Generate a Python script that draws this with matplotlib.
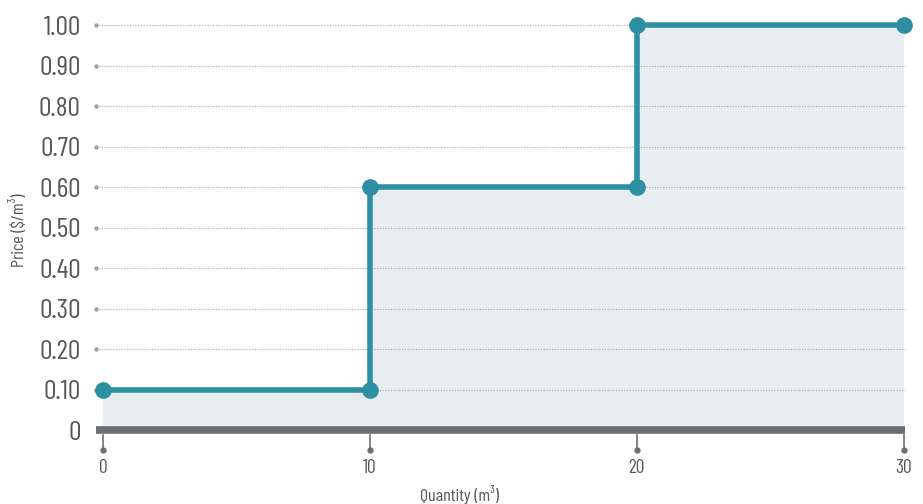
import matplotlib
matplotlib.use("Agg")
import matplotlib.pyplot as plt
import matplotlib.transforms as mtransforms

# data
qty_corners = [0, 10, 10, 20, 20, 30]
price_corners = [0.10, 0.10, 0.60, 0.60, 1.00, 1.00]
y_ticks = [0, 0.10, 0.20, 0.30, 0.40, 0.50, 0.60, 0.70, 0.80, 0.90, 1.00]
y_labels = ["0", "0.10", "0.20", "0.30", "0.40", "0.50", "0.60", "0.70", "0.80", "0.90", "1.00"]
x_ticks = [0, 10, 20, 30]
x_labels = ["0", "10", "20", "30"]

plt.rcParams["font.family"] = ["Barlow Condensed", "DejaVu Sans"]

teal = "#2e8fa3"
grey = "#6d6e71"
txt = "#585858"

fig = plt.figure(figsize=(9.23, 5.04), dpi=100)
ax = fig.add_axes([96/923, 1 - 435/504, (905 - 96)/923, (435 - 17)/504])
ax.set_xlim(-0.26, 30.04)
ax.set_ylim(-0.012, 1.02)
for s in ax.spines.values():
    s.set_visible(False)

# grid lines
for yv in y_ticks[1:]:
    ax.plot([-0.26, 30.04], [yv, yv], ls=(0, (1, 1.5)), lw=0.8, color="#a8a8a8", zorder=1, clip_on=False)
    ax.plot([-0.25], [yv], "o", ms=2.2, color="#a0a0a0", zorder=1, clip_on=False)

# fill under steps
ax.fill_between(qty_corners, price_corners, 0, color="#e8edf1", zorder=0, lw=0)

# axis bar
ax.plot([-0.26, 30.04], [0, 0], color=grey, lw=5.5, solid_capstyle="butt", zorder=3, clip_on=False)

# x ticks with dots
trans = mtransforms.blended_transform_factory(ax.transData, ax.transAxes)
for xv, lab in zip(x_ticks, x_labels):
    ax.plot([xv, xv], [0.0, -0.035], color=grey, lw=1.2, transform=trans, clip_on=False, zorder=3)
    ax.plot([xv], [-0.035], "o", ms=3.5, color=grey, transform=trans, clip_on=False, zorder=3)
    ax.text(xv, -0.058, lab, transform=trans, ha="center", va="top", fontsize=14, color=txt)

# step line
ax.plot(qty_corners, price_corners, color=teal, lw=4, zorder=4, solid_joinstyle="miter")
ax.plot(qty_corners, price_corners, "o", ms=11, color=teal, zorder=5, clip_on=False)

ax.set_xticks([])
ax.set_yticks(y_ticks)
ax.set_yticklabels(y_labels, fontsize=20, color=txt)
ax.tick_params(axis="y", length=0, pad=11)

fig.text(18/923, 1 - 230/504, "Price ($/m³)", rotation=90, ha="center", va="center", fontsize=13, color=txt)
fig.text(460/923, 1 - 494/504, "Quantity (m³)", ha="center", va="center", fontsize=13, color=txt)

fig.savefig("out.png", dpi=100)
